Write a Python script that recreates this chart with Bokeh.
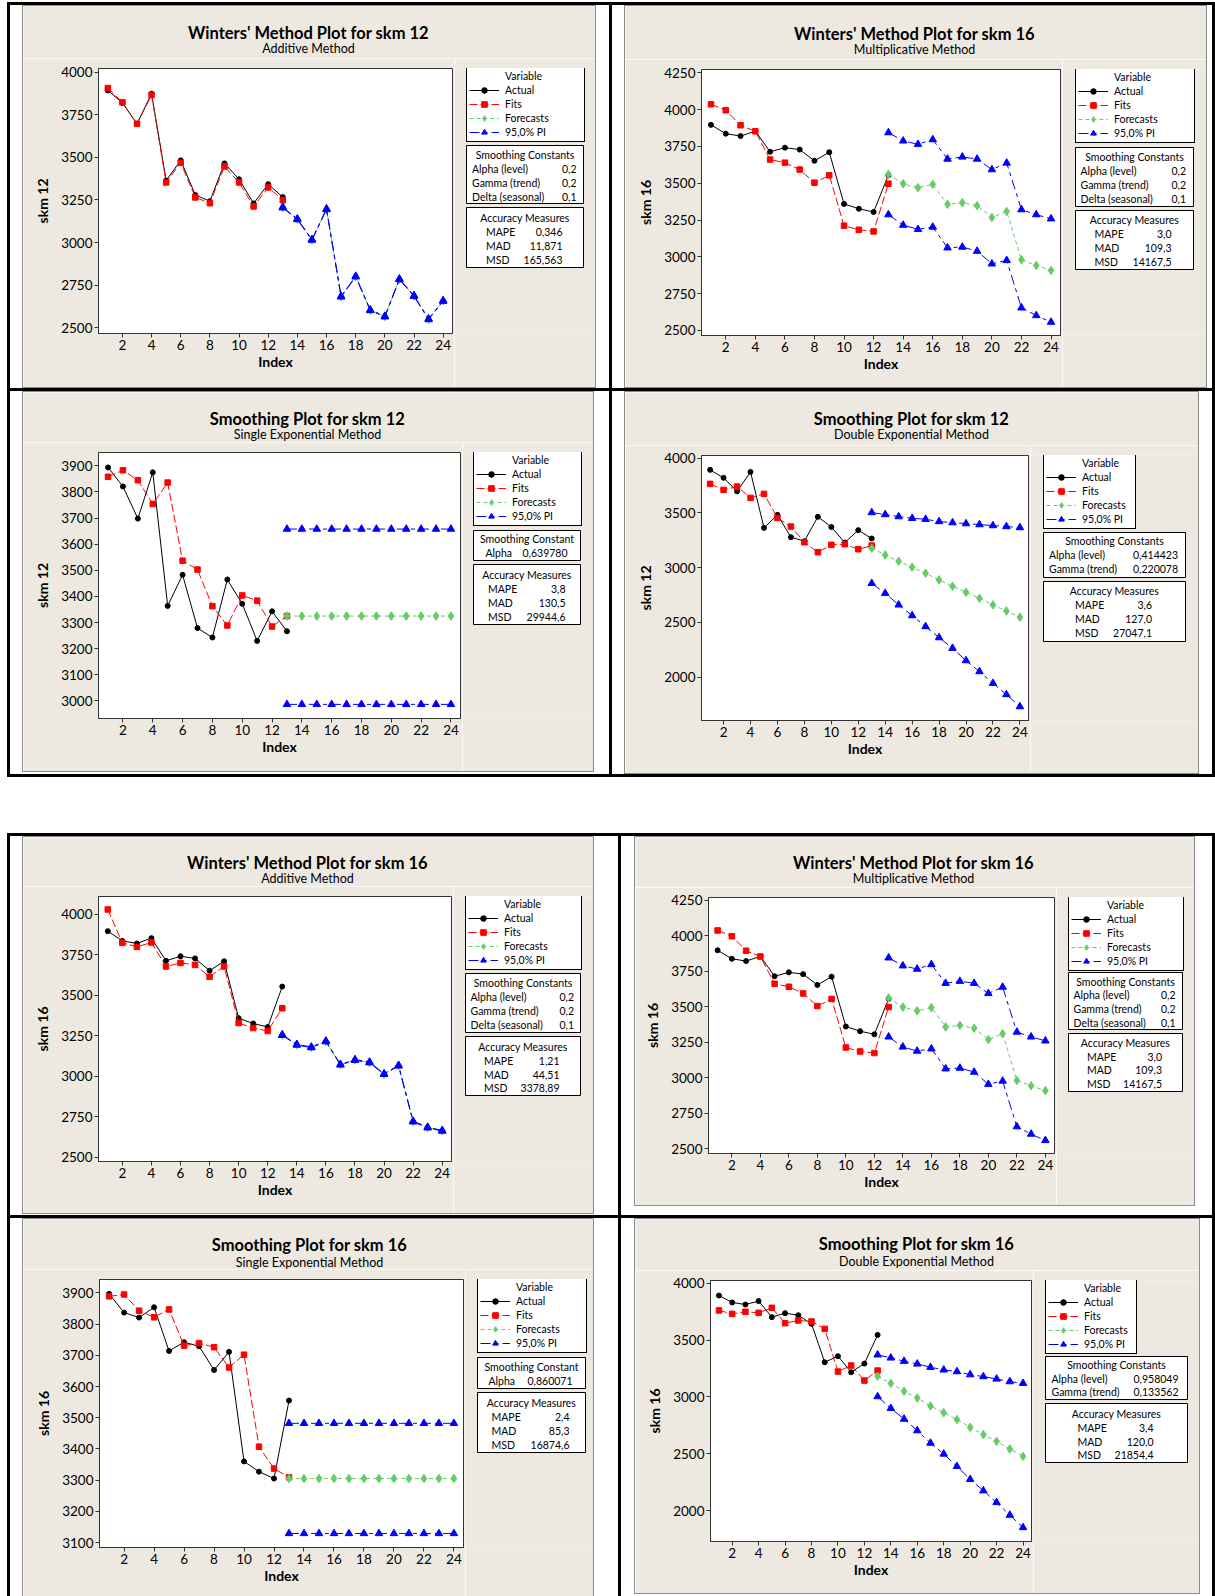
from bokeh.plotting import figure
from bokeh.models import Range1d, BoxAnnotation, Label, Legend, LegendItem, FixedTicker, Spacer
from bokeh.layouts import column, row
from bokeh.embed import file_html
from bokeh.resources import INLINE

FONT = "Lato"
BEIGE = "#EDE9E0"
GREEN = "#66CC66"
GRAY = "#8a8a8a"

# ---------------- data ----------------
idx_fit = [1, 2, 3, 4, 5, 6, 7, 8, 9, 10, 11, 12, 13]
idx_fc = [13, 14, 15, 16, 17, 18, 19, 20, 21, 22, 23, 24]
x_ticks = [2, 4, 6, 8, 10, 12, 14, 16, 18, 20, 22, 24]

yticks_a = [2500, 2750, 3000, 3250, 3500, 3750, 4000]
yticks_b = [2500, 2750, 3000, 3250, 3500, 3750, 4000, 4250]
yticks_c = [3000, 3100, 3200, 3300, 3400, 3500, 3600, 3700, 3800, 3900]
yticks_d = [2000, 2500, 3000, 3500, 4000]
yticks_e = [3100, 3200, 3300, 3400, 3500, 3600, 3700, 3800, 3900]

skm12 = [3894, 3821, 3698, 3875, 3364, 3483, 3279, 3243, 3465, 3372, 3230, 3343, 3267]
skm16 = [3897, 3837, 3821, 3854, 3714, 3742, 3729, 3653, 3711, 3360, 3327, 3305, 3555]
skm16_d = [3891, 3830, 3812, 3842, 3701, 3736, 3718, 3642, 3305, 3358, 3217, 3293, 3545]

# Winters additive, skm 12
w12a_fits = [3908, 3824, 3698, 3867, 3353, 3469, 3265, 3231, 3447, 3353, 3212, 3324, 3249]
w12a_fc = [3206, 3137, 3016, 3196, 2682, 2800, 2602, 2565, 2784, 2686, 2549, 2657]
w12a_up = [3208, 3139, 3018, 3198, 2684, 2802, 2604, 2567, 2786, 2688, 2551, 2659]
w12a_lo = [3204, 3135, 3014, 3194, 2680, 2798, 2600, 2563, 2782, 2684, 2547, 2655]

# Winters multiplicative, skm 16
w16m_fits = [4037, 3996, 3894, 3853, 3661, 3640, 3593, 3504, 3554, 3212, 3184, 3173, 3497]
w16m_fc = [3561, 3497, 3470, 3493, 3357, 3368, 3348, 3268, 3309, 2980, 2942, 2908]
w16m_up = [3844, 3788, 3765, 3797, 3665, 3679, 3665, 3593, 3638, 3321, 3287, 3259]
w16m_lo = [3287, 3216, 3187, 3203, 3062, 3067, 3039, 2953, 2976, 2654, 2602, 2557]

# Single exponential, skm 12
s12_fits = [3858, 3883, 3845, 3754, 3836, 3537, 3503, 3363, 3289, 3404, 3384, 3285, 3325]
s12_fc = [3325, 3325, 3325, 3325, 3325, 3325, 3325, 3325, 3325, 3325, 3325, 3325]
s12_up = [3658, 3658, 3658, 3658, 3658, 3658, 3658, 3658, 3658, 3658, 3658, 3658]
s12_lo = [2987, 2987, 2987, 2987, 2987, 2987, 2987, 2987, 2987, 2987, 2987, 2987]

# Double exponential, skm 12
d12_fits = [3766, 3711, 3741, 3638, 3674, 3455, 3376, 3233, 3142, 3209, 3215, 3169, 3202]
d12_fc = [3178, 3117, 3059, 3005, 2950, 2889, 2831, 2776, 2721, 2661, 2606, 2548]
d12_up = [3504, 3486, 3467, 3452, 3443, 3422, 3412, 3403, 3394, 3385, 3376, 3367]
d12_lo = [2858, 2767, 2661, 2563, 2463, 2362, 2265, 2152, 2052, 1945, 1842, 1732]

# Winters additive, skm 16
w16a_fits = [4031, 3825, 3800, 3827, 3679, 3701, 3689, 3615, 3679, 3330, 3299, 3281, 3421]
w16a_fc = [3256, 3196, 3180, 3217, 3073, 3102, 3087, 3015, 3067, 2722, 2685, 2665]
w16a_up = [3258, 3198, 3182, 3219, 3075, 3104, 3089, 3017, 3069, 2724, 2687, 2667]
w16a_lo = [3254, 3194, 3178, 3215, 3071, 3100, 3085, 3013, 3065, 2720, 2683, 2663]

# Single exponential, skm 16
s16_fits = [3889, 3895, 3843, 3822, 3847, 3731, 3739, 3726, 3661, 3702, 3407, 3337, 3309]
s16_fc = [3305, 3305, 3305, 3305, 3305, 3305, 3305, 3305, 3305, 3305, 3305, 3305]
s16_up = [3482, 3482, 3482, 3482, 3482, 3482, 3482, 3482, 3482, 3482, 3482, 3482]
s16_lo = [3129, 3129, 3129, 3129, 3129, 3129, 3129, 3129, 3129, 3129, 3129, 3129]

# Double exponential, skm 16
d16_fits = [3760, 3730, 3748, 3739, 3783, 3648, 3672, 3663, 3598, 3223, 3276, 3144, 3232]
d16_fc = [3182, 3120, 3050, 2991, 2921, 2862, 2801, 2733, 2669, 2610, 2543, 2478]
d16_up = [3370, 3343, 3314, 3290, 3261, 3238, 3223, 3196, 3179, 3158, 3135, 3120]
d16_lo = [3003, 2900, 2806, 2704, 2595, 2499, 2390, 2276, 2176, 2073, 1962, 1853]

legend_labels = ["Variable", "Actual", "Fits", "Forecasts", "95,0% PI"]

winters_consts = [("Alpha (level)", "0,2"), ("Gamma (trend)", "0,2"), ("Delta (seasonal)", "0,1")]
s12_consts = [("Alpha", "0,639780")]
d12_consts = [("Alpha (level)", "0,414423"), ("Gamma (trend)", "0,220078")]
s16_consts = [("Alpha", "0,860071")]
d16_consts = [("Alpha (level)", "0,958049"), ("Gamma (trend)", "0,133562")]

acc_w12a = [("MAPE", "0,346"), ("MAD", "11,871"), ("MSD", "165,563")]
acc_w16m = [("MAPE", "3,0"), ("MAD", "109,3"), ("MSD", "14167,5")]
acc_s12 = [("MAPE", "3,8"), ("MAD", "130,5"), ("MSD", "29944,6")]
acc_d12 = [("MAPE", "3,6"), ("MAD", "127,0"), ("MSD", "27047,1")]
acc_w16a = [("MAPE", "1,21"), ("MAD", "44,51"), ("MSD", "3378,89")]
acc_s16 = [("MAPE", "2,4"), ("MAD", "85,3"), ("MSD", "16874,6")]
acc_d16 = [("MAPE", "3,4"), ("MAD", "120,0"), ("MSD", "21854,4")]

# ---------------- panel geometry (page pixels) ----------------
PANELS = [
    dict(frame=(98, 68, 452, 333), beige=(23, 6, 595, 387), yr=(2465, 4023),
         yticks=yticks_a, ylabel="skm 12", title="Winters' Method Plot for skm 12", subtitle="Additive Method",
         tpos=(308, 32, 48), actual=skm12, fits=w12a_fits, fc=w12a_fc, up=w12a_up, lo=w12a_lo,
         legend=(466, 68, 583),
         smooth=dict(box=(466, 145, 583, 203), ty=154, rows=[168, 182, 196], lx=471.5, rx=576,
                     title="Smoothing Constants", items=winters_consts),
         acc=dict(box=(466, 207, 583, 267), ty=217, rows=[231, 245.5, 259.5], lx=485.5, rx=562, items=acc_w12a)),
    dict(frame=(701, 69, 1060, 335), beige=(625, 6, 1206, 387), yr=(2466, 4273),
         yticks=yticks_b, ylabel="skm 16", title="Winters' Method Plot for skm 16", subtitle="Multiplicative Method",
         tpos=(914, 33, 49), actual=skm16, fits=w16m_fits, fc=w16m_fc, up=w16m_up, lo=w16m_lo,
         legend=(1075, 69, 1193),
         smooth=dict(box=(1075, 147, 1193, 206), ty=156, rows=[170, 184, 198], lx=1080, rx=1185.5,
                     title="Smoothing Constants", items=winters_consts),
         acc=dict(box=(1075, 210, 1193, 269), ty=219.5, rows=[233.5, 247.5, 261.5], lx=1094, rx=1171, items=acc_w16m)),
    dict(frame=(98, 452, 460, 718), beige=(23, 392, 593, 771), yr=(2933, 3951),
         yticks=yticks_c, ylabel="skm 12", title="Smoothing Plot for skm 12", subtitle="Single Exponential Method",
         tpos=(307, 418, 434), actual=skm12, fits=s12_fits, fc=s12_fc, up=s12_up, lo=s12_lo,
         legend=(473, 452, 580),
         smooth=dict(box=(473, 530, 580, 560), ty=538.5, rows=[552.5], lx=485, rx=567,
                     title="Smoothing Constant", items=s12_consts),
         acc=dict(box=(473, 564, 580, 624), ty=574.5, rows=[588.5, 602.5, 616.5], lx=487.5, rx=565, items=acc_s12)),
    dict(frame=(701, 455, 1028, 720), beige=(625, 392, 1198, 773), yr=(1605, 4025),
         yticks=yticks_d, ylabel="skm 12", title="Smoothing Plot for skm 12", subtitle="Double Exponential Method",
         tpos=(911, 418, 434), actual=skm12, fits=d12_fits, fc=d12_fc, up=d12_up, lo=d12_lo,
         legend=(1043, 455, 1134),
         smooth=dict(box=(1043, 532, 1185, 577), ty=540.5, rows=[554.5, 568.5], lx=1048.5, rx=1177.5,
                     title="Smoothing Constants", items=d12_consts),
         acc=dict(box=(1043, 581, 1185, 641), ty=590.5, rows=[604.5, 618.5, 632.5], lx=1074.5, rx=1151.5, items=acc_d12)),
    dict(frame=(98, 896, 451, 1161), beige=(23, 837, 593, 1213), yr=(2475, 4111),
         yticks=yticks_a, ylabel="skm 16", title="Winters' Method Plot for skm 16", subtitle="Additive Method",
         tpos=(307, 862, 878), actual=skm16, fits=w16a_fits, fc=w16a_fc, up=w16a_up, lo=w16a_lo,
         legend=(465, 896, 580),
         smooth=dict(box=(465, 973, 580, 1032), ty=982.5, rows=[996.5, 1010.5, 1024], lx=470, rx=573.5,
                     title="Smoothing Constants", items=winters_consts),
         acc=dict(box=(465, 1036, 580, 1095), ty=1046, rows=[1060, 1074, 1087.5], lx=483.5, rx=559, items=acc_w16a)),
    dict(frame=(708, 897, 1054, 1153), beige=(635, 837, 1194, 1205), yr=(2465, 4269),
         yticks=yticks_b, ylabel="skm 16", title="Winters' Method Plot for skm 16", subtitle="Multiplicative Method",
         tpos=(913, 862, 878), actual=skm16, fits=w16m_fits, fc=w16m_fc, up=w16m_up, lo=w16m_lo,
         legend=(1068, 897, 1182),
         smooth=dict(box=(1068, 972, 1182, 1029), ty=981.5, rows=[994.5, 1008.5, 1022], lx=1073, rx=1175,
                     title="Smoothing Constants", items=winters_consts),
         acc=dict(box=(1068, 1033, 1182, 1091), ty=1042.5, rows=[1056, 1069.5, 1083], lx=1086.5, rx=1161.5, items=acc_w16m)),
    dict(frame=(99, 1279, 463, 1547), beige=(23, 1219, 593, 1596), yr=(3084, 3943),
         yticks=yticks_e, ylabel="skm 16", title="Smoothing Plot for skm 16", subtitle="Single Exponential Method",
         tpos=(309, 1244, 1262), actual=skm16, fits=s16_fits, fc=s16_fc, up=s16_up, lo=s16_lo,
         legend=(477, 1279, 585),
         smooth=dict(box=(477, 1357, 585, 1388), ty=1366, rows=[1380.5], lx=488, rx=572,
                     title="Smoothing Constant", items=s16_consts),
         acc=dict(box=(477, 1392, 585, 1452), ty=1402.5, rows=[1416.5, 1430.5, 1444.5], lx=491, rx=569, items=acc_s16)),
    dict(frame=(710, 1280, 1031, 1541), beige=(635, 1219, 1199, 1593), yr=(1730, 4023),
         yticks=yticks_d, ylabel="skm 16", title="Smoothing Plot for skm 16", subtitle="Double Exponential Method",
         tpos=(916, 1243, 1261), actual=skm16_d, fits=d16_fits, fc=d16_fc, up=d16_up, lo=d16_lo,
         legend=(1045, 1280, 1135),
         smooth=dict(box=(1045, 1356, 1187, 1399), ty=1364.5, rows=[1378, 1391.5], lx=1051, rx=1178,
                     title="Smoothing Constants", items=d16_consts),
         acc=dict(box=(1045, 1403, 1187, 1462), ty=1413.5, rows=[1427.5, 1441, 1454.5], lx=1077, rx=1153, items=acc_d16)),
]

LEG_PAD = 2
LEG_GLYPH_W = 30
LEG_STANDOFF = 6
LEG_ROW = 14
LEG_H = 2 * LEG_PAD + 5 * LEG_ROW
TXT = "10.5px"


def sp(w, h, color=None):
    if color:
        return Spacer(width=w, height=h, styles={"background-color": color})
    return Spacer(width=w, height=h)


def add_box(f, rect, fill=None, line=None, lw=1):
    x0, y0, x1, y1 = rect
    f.add_layout(BoxAnnotation(left=x0, right=x1, top=y0, bottom=y1,
                               fill_color=fill, fill_alpha=1.0 if fill else 0.0,
                               line_color=line, line_alpha=1.0 if line else 0.0,
                               line_width=lw, line_dash="solid"))


def add_text(f, x, y, t, size=TXT, align="left", bold=False):
    f.add_layout(Label(x=x, y=y, text=t, text_font=FONT, text_font_size=size,
                       text_font_style="bold" if bold else "normal",
                       text_align=align, text_baseline="middle", text_color="black"))


def series_renderers(f, s):
    a_l = f.line(idx_fit, s["actual"], line_color="black", line_width=1)
    a_m = f.scatter(idx_fit, s["actual"], marker="circle", size=5, color="black")
    f_l = f.line(idx_fit, s["fits"], line_color="red", line_width=1, line_dash="8 3")
    f_m = f.scatter(idx_fit, s["fits"], marker="square", size=5.5, color="red")
    g_l = f.line(idx_fc, s["fc"], line_color=GREEN, line_width=1, line_dash="4 3")
    g_m = f.scatter(idx_fc, s["fc"], marker="diamond", size=8.5, color=GREEN)
    u_l = f.line(idx_fc, s["up"], line_color="blue", line_width=1, line_dash="10 4 4 4")
    u_m = f.scatter(idx_fc, s["up"], marker="triangle", size=7.5, color="blue")
    l_l = f.line(idx_fc, s["lo"], line_color="blue", line_width=1, line_dash="10 4 4 4")
    l_m = f.scatter(idx_fc, s["lo"], marker="triangle", size=7.5, color="blue")
    return [[a_l, a_m], [f_l, f_m], [g_l, g_m], [u_l, u_m]]


def plain_fig(w, h, xr, yr, **kw):
    return figure(width=w, height=h, output_backend="svg", toolbar_location=None, tools="",
                  x_range=xr, y_range=yr, x_axis_type=None, y_axis_type=None,
                  title_location=None, outline_line_color=None,
                  background_fill_color=BEIGE, border_fill_color=BEIGE, **kw)


def plot_fig(s, xl, ytop, xr, ybot):
    L, T, R, B = s["frame"]
    p = figure(width=xr - xl, height=ybot - ytop, output_backend="svg", toolbar_location=None, tools="",
               x_range=Range1d(0.36, 24.64), y_range=Range1d(s["yr"][0], s["yr"][1]),
               min_border_left=L - xl, min_border_right=xr - R,
               min_border_top=T - ytop, min_border_bottom=ybot - B, title_location=None,
               border_fill_color=BEIGE, background_fill_color="white",
               outline_line_color="#333333", outline_line_width=1)
    p.xgrid.visible = False
    p.ygrid.visible = False
    p.xaxis.ticker = FixedTicker(ticks=x_ticks)
    p.yaxis.ticker = FixedTicker(ticks=s["yticks"])
    p.xaxis.axis_label = "Index"
    p.yaxis.axis_label = s["ylabel"]
    for ax in (p.xaxis[0], p.yaxis[0]):
        ax.major_tick_out = 4
        ax.major_tick_in = 0
        ax.minor_tick_out = 0
        ax.minor_tick_in = 0
        ax.axis_line_color = "#333333"
        ax.major_tick_line_color = "#333333"
        ax.major_label_text_font = FONT
        ax.major_label_text_font_size = "13.5px"
        ax.major_label_text_color = "black"
        ax.axis_label_text_font = FONT
        ax.axis_label_text_font_size = "14px"
        ax.axis_label_text_font_style = "bold"
        ax.axis_label_text_color = "black"
    p.xaxis.major_label_standoff = 2
    p.xaxis.axis_label_standoff = 0
    p.yaxis.major_label_standoff = 2
    p.yaxis.axis_label_standoff = 7
    series_renderers(p, s)
    return p


def make_content(s):
    ix0, iy0, ix1, iy1 = s["beige"]
    L, T, R, B = s["frame"]
    xr = R + 2
    ytop = T - 10

    # title strip
    top = plain_fig(ix1 - ix0, ytop - iy0, Range1d(ix0, ix1), Range1d(ytop, iy0), min_border=0)
    tx, ty, sy = s["tpos"]
    add_text(top, tx, ty, s["title"], size="16.5px", align="center", bold=True)
    add_text(top, tx, sy, s["subtitle"], size="12.5px", align="center")

    plot = plot_fig(s, ix0, ytop, xr, iy1)

    # side strip: legend and text boxes (frame spans the plot frame's height)
    side = plain_fig(ix1 - xr, iy1 - ytop, Range1d(xr, ix1), Range1d(B, T),
                     min_border_left=0, min_border_right=0,
                     min_border_top=T - ytop, min_border_bottom=iy1 - B)
    dummy = side.line(idx_fit, s["actual"], line_alpha=0)
    rs = series_renderers(side, s)   # lie outside this strip's view; they only feed the legend swatches
    lx0, ly0, lx1 = s["legend"]
    items = [LegendItem(label=lab, renderers=r) for lab, r in zip(legend_labels, [[dummy]] + rs)]
    legend = Legend(items=items, location=(lx0 - xr, B - (ly0 + LEG_H)), orientation="vertical",
                    padding=LEG_PAD, spacing=0, margin=0,
                    glyph_width=LEG_GLYPH_W, glyph_height=LEG_ROW, label_height=LEG_ROW,
                    label_width=(lx1 - lx0) - 2 * LEG_PAD - LEG_GLYPH_W - LEG_STANDOFF,
                    label_standoff=LEG_STANDOFF, label_text_font=FONT, label_text_font_size=TXT,
                    label_text_color="black", label_text_baseline="middle",
                    border_line_color="black", border_line_alpha=1.0, border_line_width=1,
                    background_fill_color="white", background_fill_alpha=1.0)
    side.add_layout(legend)

    sm = s["smooth"]
    add_box(side, sm["box"], fill="white", line="black")
    add_text(side, (sm["box"][0] + sm["box"][2]) / 2, sm["ty"], sm["title"], align="center")
    for yy, (lab, val) in zip(sm["rows"], sm["items"]):
        add_text(side, sm["lx"], yy, lab)
        add_text(side, sm["rx"], yy, val, align="right")

    ac = s["acc"]
    add_box(side, ac["box"], fill="white", line="black")
    add_text(side, (ac["box"][0] + ac["box"][2]) / 2, ac["ty"], "Accuracy Measures", align="center")
    for yy, (lab, val) in zip(ac["rows"], ac["items"]):
        add_text(side, ac["lx"], yy, lab)
        add_text(side, ac["rx"], yy, val, align="right")

    return column(top, row(plot, side))


def block(s, bottom_edge=True):
    ix0, iy0, ix1, iy1 = s["beige"]
    w, h = ix1 - ix0, iy1 - iy0
    parts = [sp(w + 2, 1, GRAY), row(sp(1, h, GRAY), make_content(s), sp(1, h, GRAY))]
    if bottom_edge:
        parts.append(sp(w + 2, 1, GRAY))
    return column(*parts)


P = PANELS
K = "black"
full = 1215

layout = column(
    sp(full, 2),
    row(sp(7, 3), sp(full - 7, 3, K)),
    row(sp(7, 383), sp(3, 383, K), sp(12, 383), block(P[0]),
        sp(13, 383), sp(3, 383, K), sp(12, 383), block(P[1]),
        sp(5, 383), sp(3, 383, K)),
    row(sp(7, 3), sp(full - 7, 3, K)),
    row(sp(7, 383), sp(3, 383, K), sp(12, 383), column(block(P[2]), sp(572, 2)),
        sp(15, 383), sp(3, 383, K), sp(12, 383), block(P[3]),
        sp(13, 383), sp(3, 383, K)),
    row(sp(7, 3), sp(full - 7, 3, K)),
    sp(full, 56),
    row(sp(7, 3), sp(full - 7, 3, K)),
    row(sp(7, 379), sp(3, 379, K), sp(12, 379), column(block(P[4]), sp(572, 1)),
        sp(24, 379), sp(3, 379, K), sp(13, 379), column(block(P[5]), sp(561, 9)),
        sp(17, 379), sp(3, 379, K)),
    row(sp(7, 3), sp(full - 7, 3, K)),
    row(sp(7, 378), sp(3, 378, K), sp(12, 378), block(P[6], bottom_edge=False),
        sp(24, 378), sp(3, 378, K), sp(13, 378), column(block(P[7]), sp(566, 2)),
        sp(12, 378), sp(3, 378, K)),
)

open("out.html", "w").write(file_html(layout, INLINE))
